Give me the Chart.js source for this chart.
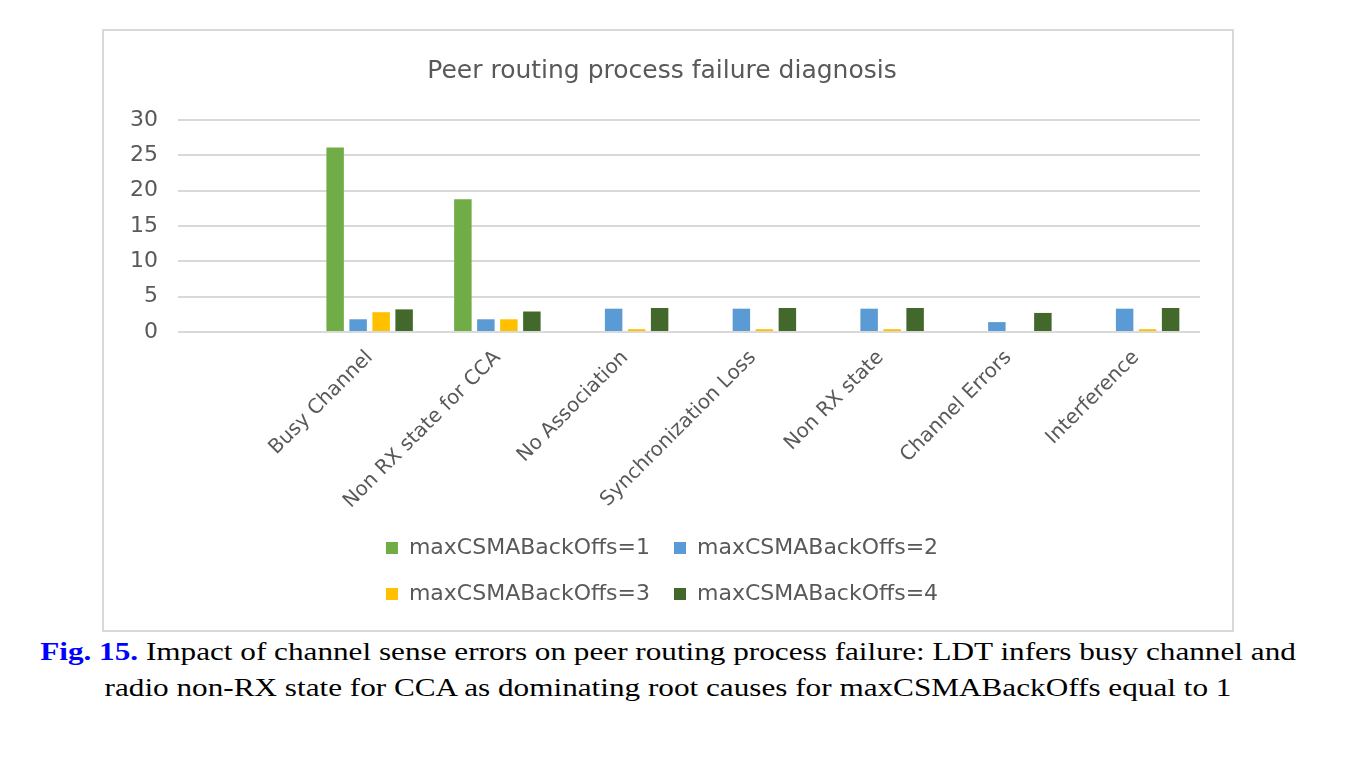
<!DOCTYPE html>
<html>
<head>
<meta charset="utf-8">
<script src="https://cdn.jsdelivr.net/npm/chart.js@4.4.0/dist/chart.umd.min.js"></script>
<style>
    body { margin: 0; background: #fff; }
    #box {
        position: absolute; left: 102px; top: 29px;
        width: 1132px; height: 603px;
        border: 2px solid #d9d9d9; box-sizing: border-box;
    }
    #caption {
        position: absolute; left: 0; top: 634px; width: 1336px;
        font-family: "Liberation Serif", serif; font-size: 26px;
        line-height: 36px; text-align: center; color: #000;
    }
    #caption div { transform: scaleX(1.2); }
    #caption b { color: #0000ff; }
</style>
</head>
<body>
<div id="box"><canvas id="chart"></canvas></div>
<div id="caption">
    <div><b>Fig. 15.</b> Impact of channel sense errors on peer routing process failure: LDT infers busy channel and</div>
    <div>radio non-RX state for CCA as dominating root causes for maxCSMABackOffs equal to 1</div>
</div>
<script>
// Peer routing failure causes per maxCSMABackOffs setting

const categories = ['', 'Busy Channel', 'Non RX state for CCA', 'No Association',
    'Synchronization Loss', 'Non RX state', 'Channel Errors', 'Interference'];

const backoffs1 = [0, 26.1, 18.8, 0, 0, 0, 0, 0];
const backoffs2 = [0, 1.8, 1.8, 3.3, 3.3, 3.3, 1.4, 3.3];
const backoffs3 = [0, 2.8, 1.8, 0.4, 0.4, 0.4, 0, 0.4];
const backoffs4 = [0, 3.2, 2.9, 3.4, 3.4, 3.4, 2.7, 3.4];

const yTicks = { min: 0, max: 30, step: 5 };

const FONT = '"DejaVu Sans", sans-serif';
const TEXT_GRAY = '#595959';

// keep the legend at two items per row
const legendWrap = {
    id: 'legendWrap',
    beforeLayout(chart) {
        const lg = chart.legend;
        if (!lg || lg._wrapped) return;
        lg._wrapped = true;
        const fit = lg.fit.bind(lg);
        lg.fit = function () {
            const full = this.maxWidth;
            this.maxWidth = Math.min(full, 720);
            fit();
            this.maxWidth = full;
            this.width = full;
        };
    }
};

const ctx = document.getElementById('chart').getContext('2d');
new Chart(ctx, {
    type: 'bar',
    data: {
        labels: categories,
        datasets: [
            { label: 'maxCSMABackOffs=1', data: backoffs1, backgroundColor: '#70ad47' },
            { label: 'maxCSMABackOffs=2', data: backoffs2, backgroundColor: '#5b9bd5' },
            { label: 'maxCSMABackOffs=3', data: backoffs3, backgroundColor: '#ffc000' },
            { label: 'maxCSMABackOffs=4', data: backoffs4, backgroundColor: '#43682b' }
        ]
    },
    options: {
        animation: false,
        responsive: true,
        maintainAspectRatio: false,
        categoryPercentage: 0.72,
        barPercentage: 0.76,
        layout: { padding: { top: 25, left: 20, right: 32, bottom: 15 } },
        plugins: {
            title: {
                display: true,
                text: 'Peer routing process failure diagnosis',
                color: TEXT_GRAY,
                font: { family: FONT, size: 25, weight: 'normal' },
                padding: { top: 0, bottom: 34 }
            },
            legend: {
                position: 'bottom',
                labels: {
                    color: TEXT_GRAY,
                    boxWidth: 12,
                    boxHeight: 12,
                    padding: 24,
                    font: { family: FONT, size: 22 }
                }
            },
            tooltip: { enabled: false }
        },
        scales: {
            x: {
                grid: { display: false },
                border: { display: false },
                ticks: {
                    color: TEXT_GRAY,
                    font: { family: FONT, size: 20 },
                    minRotation: 45,
                    maxRotation: 45,
                    padding: 6
                },
                afterFit(scale) { scale.height = 181; }
            },
            y: {
                min: yTicks.min,
                max: yTicks.max,
                grid: { color: '#d9d9d9', lineWidth: 2, drawTicks: false },
                border: { display: false },
                ticks: {
                    stepSize: yTicks.step,
                    color: TEXT_GRAY,
                    font: { family: FONT, size: 22 },
                    padding: 20
                },
                afterFit(scale) { scale.width = 54; }
            }
        }
    },
    plugins: [legendWrap]
});
</script>
</body>
</html>
